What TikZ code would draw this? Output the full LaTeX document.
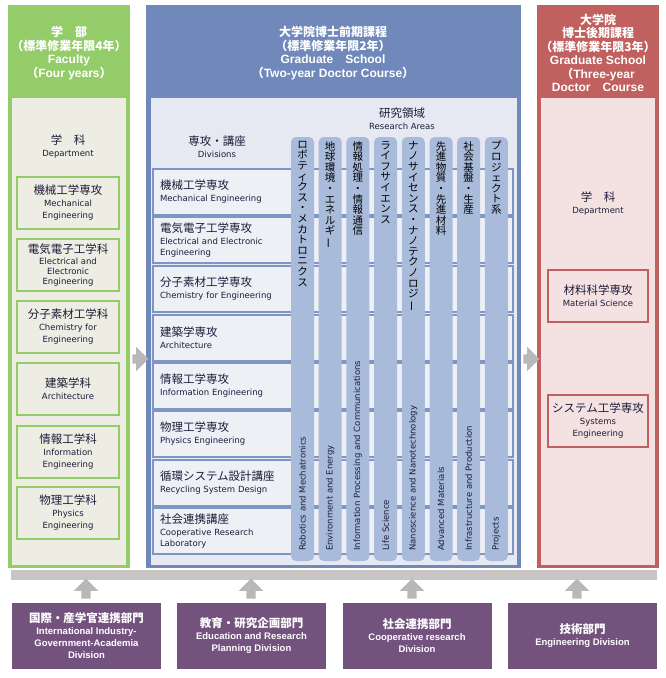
\documentclass[tikz,border=0pt]{standalone}
\usepackage{fontspec}
\setmainfont{DejaVu Sans}
\newfontfamily\jp{Noto Sans CJK JP}
\newfontfamily\hd{Liberation Sans}
\usepackage{graphicx}
\usetikzlibrary{
  arrows.meta,
  positioning,
  shapes.arrows
}

\definecolor{fgreen}{HTML}{95CC6A}
\definecolor{fpale}{HTML}{EDEDE3}
\definecolor{gblue}{HTML}{7089BA}
\definecolor{gpale}{HTML}{E6E9F2}
\definecolor{growfill}{HTML}{EEF0F6}
\definecolor{growline}{HTML}{7E96C5}
\definecolor{gcol}{HTML}{A8BBDB}
\definecolor{dred}{HTML}{C0605F}
\definecolor{dpale}{HTML}{F3E2E1}
\definecolor{agray}{HTML}{B8B8B8}
\definecolor{bargray}{HTML}{C9C5C5}
\definecolor{upurple}{HTML}{73527E}
\definecolor{ink}{HTML}{1C1C3A}

\newcommand\jl[1]{{\jp\fontsize{11.5}{13}\selectfont #1}}
\newcommand\jb[1]{{\jp\bfseries #1}}
\newcommand\vlong{\rotatebox[origin=c]{90}{ー}}

\begin{document}
\begin{tikzpicture}[
  x=1pt, y=-1pt,
  font=\fontsize{8.5}{12}\selectfont,
  hdtxt/.style={align=center, text=white, font=\hd\bfseries\fontsize{12}{13.5}\selectfont},
  lbl/.style={align=center, text=ink},
  fbox/.style={
    rectangle, draw=fgreen, line width=2pt, fill=fpale,
    minimum width=102pt, minimum height=52pt, align=center, text=ink
  },
  rowbox/.style={
    rectangle, draw=growline, line width=1.3pt, fill=growfill,
    minimum height=46pt, text width=346pt, inner xsep=7pt, align=left, text=ink
  },
  colbox/.style={fill=gcol, rounded corners=5pt, minimum width=23pt, minimum height=424pt},
  coljp/.style={anchor=north, align=center, inner sep=0pt, font=\jp\fontsize{10.5}{10.6}\selectfont},
  colen/.style={rotate=90, anchor=west, inner sep=0pt, text=ink},
  dbox/.style={
    rectangle, draw=dred, line width=1.5pt, fill=dpale,
    minimum width=100pt, minimum height=52pt, align=center, text=ink
  },
  unitbox/.style={
    rectangle, fill=upurple, text=white,
    minimum width=149pt, minimum height=66pt, align=center,
    font=\hd\bfseries\fontsize{9.5}{12}\selectfont
  },
  flow/.style={
    single arrow, fill=agray, draw=none, inner xsep=0pt, inner ysep=4.5pt,
    minimum height=20pt, minimum width=24pt, single arrow head extend=7.5pt
  },
]
\useasboundingbox (0,0) rectangle (666,678);

% Faculty panel
\fill[fgreen] (8,5) rectangle (130,568);
\fill[fpale] (12,98) rectangle (126,565);
\node[hdtxt] (fhead) at (69,53) {\jb{学　部}\\\jb{（標準修業年限4年）}\\Faculty\\\jb{（}Four years\jb{）}};
\node[lbl] (fdept) at (68,147) {\jl{学　科}\\Department};
\node[fbox] (fmech) at (68,203) {\jl{機械工学専攻}\\Mechanical\\Engineering};
\node[fbox] (felec) at (68,265) {\jl{電気電子工学科}\\[-1pt]Electrical and\\[-2pt]Electronic\\[-2pt]Engineering};
\node[fbox] (fchem) at (68,327) {\jl{分子素材工学科}\\Chemistry for\\Engineering};
\node[fbox] (farch) at (68,389) {\jl{建築学科}\\Architecture};
\node[fbox] (finfo) at (68,452) {\jl{情報工学科}\\Information\\Engineering};
\node[fbox] (fphys) at (68,513) {\jl{物理工学科}\\Physics\\Engineering};

% Graduate school, two-year course
\fill[gblue] (146,5) rectangle (521,568);
\fill[gpale] (151,98) rectangle (517,565);
\node[hdtxt] (ghead) at (333,53) {\jb{大学院博士前期課程}\\\jb{（標準修業年限2年）}\\Graduate\jb{　}School\\\jb{（}Two-year Doctor Course\jb{）}};
\node[lbl] (gdiv) at (217,147) {\jl{専攻・講座}\\Divisions};
\node[lbl] (garea) at (402,119) {\jl{研究領域}\\Research Areas};

\node[rowbox] (rmech) at (333,192) {\jl{機械工学専攻}\\Mechanical Engineering};
\node[rowbox] (relec) at (333,240) {\jl{電気電子工学専攻}\\Electrical and Electronic\\[-1pt]Engineering};
\node[rowbox] (rchem) at (333,289) {\jl{分子素材工学専攻}\\Chemistry for Engineering};
\node[rowbox] (rarch) at (333,338) {\jl{建築学専攻}\\Architecture};
\node[rowbox] (rinfo) at (333,386) {\jl{情報工学専攻}\\Information Engineering};
\node[rowbox] (rphys) at (333,434) {\jl{物理工学専攻}\\Physics Engineering};
\node[rowbox] (rrecy) at (333,483) {\jl{循環システム設計講座}\\Recycling System Design};
\node[rowbox] (rcoop) at (333,531) {\jl{社会連携講座}\\Cooperative Research\\[-1pt]Laboratory};

% Research areas
\node[colbox] (crob) at (302.5,349) {};
\node[coljp] at (302.5,141) {ロ\\ボ\\テ\\ィ\\ク\\ス\\・\\メ\\カ\\ト\\ロ\\ニ\\ク\\ス};
\node[colen] at (302.5,551) {Robotics and Mechatronics};
\node[colbox] (cenv) at (330.2,349) {};
\node[coljp] at (330.2,141) {地\\球\\環\\境\\・\\エ\\ネ\\ル\\ギ\\\vlong};
\node[colen] at (330.2,551) {Environment and Energy};
\node[colbox] (cinf) at (357.9,349) {};
\node[coljp] at (357.9,141) {情\\報\\処\\理\\・\\情\\報\\通\\信};
\node[colen] at (357.9,551) {Information Processing and Communications};
\node[colbox] (clife) at (385.6,349) {};
\node[coljp] at (385.6,141) {ラ\\イ\\フ\\サ\\イ\\エ\\ン\\ス};
\node[colen] at (385.6,551) {Life Science};
\node[colbox] (cnano) at (413.3,349) {};
\node[coljp] at (413.3,141) {ナ\\ノ\\サ\\イ\\セ\\ン\\ス\\・\\ナ\\ノ\\テ\\ク\\ノ\\ロ\\ジ\\\vlong};
\node[colen] at (413.3,551) {Nanoscience and Nanotechnology};
\node[colbox] (cadv) at (441,349) {};
\node[coljp] at (441,141) {先\\進\\物\\質\\・\\先\\進\\材\\料};
\node[colen] at (441,551) {Advanced Materials};
\node[colbox] (cinfr) at (468.7,349) {};
\node[coljp] at (468.7,141) {社\\会\\基\\盤\\・\\生\\産};
\node[colen] at (468.7,551) {Infrastructure and Production};
\node[colbox] (cproj) at (496.4,349) {};
\node[coljp] at (496.4,141) {プ\\ロ\\ジ\\ェ\\ク\\ト\\系};
\node[colen] at (496.4,551) {Projects};

% Graduate school, three-year course
\fill[dred] (537,5) rectangle (659,568);
\fill[dpale] (541,98) rectangle (655,565);
\node[hdtxt] (dhead) at (598,53) {\jb{大学院}\\\jb{博士後期課程}\\\jb{（標準修業年限3年）}\\Graduate School\\\jb{（}Three-year\\Doctor\jb{　}Course};
\node[lbl] (ddept) at (598,204) {\jl{学　科}\\Department};
\node[dbox] (dmat) at (598,296) {\jl{材料科学専攻}\\Material Science};
\node[dbox] (dsys) at (598,421) {\jl{システム工学専攻}\\Systems\\Engineering};

% arrows between courses
\node[flow, minimum height=16pt] (fg) at (138,359) {};
\node[flow, minimum height=16pt] (gd) at (529,359) {};

% support divisions
\fill[bargray] (11,570) rectangle (657,580);
\node[flow, rotate=90] (up1) at (86,591) {};
\node[flow, rotate=90] (up2) at (251,591) {};
\node[flow, rotate=90] (up3) at (412,591) {};
\node[flow, rotate=90] (up4) at (577,591) {};
\node[unitbox] (uint) at (86.5,636) {{\jp\fontsize{11.5}{13}\selectfont 国際・産学官連携部門}\\International Industry-\\Government-Academia\\Division};
\node[unitbox] (uedu) at (251.5,636) {{\jp\fontsize{11.5}{13}\selectfont 教育・研究企画部門}\\Education and Research\\Planning Division};
\node[unitbox] (ucoop) at (417,636) {{\jp\fontsize{11.5}{13}\selectfont 社会連携部門}\\Cooperative research\\Division};
\node[unitbox] (ueng) at (582.5,636) {{\jp\fontsize{11.5}{13}\selectfont 技術部門}\\Engineering Division};

\end{tikzpicture}
\end{document}
